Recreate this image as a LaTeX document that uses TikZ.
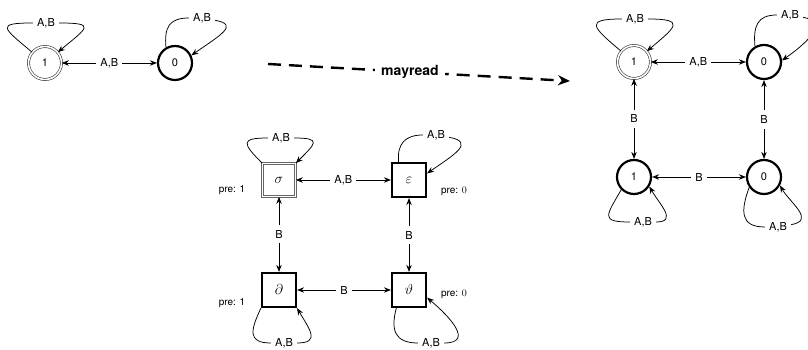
\documentclass[tikz,border=0pt]{standalone}
\usepackage{fontspec}
\newfontfamily\helv{TeX Gyre Heros}
\usetikzlibrary{arrows.meta}

\begin{document}
\begin{tikzpicture}[x=1pt,y=1pt,>={Stealth[length=7pt,width=5.5pt]},
  every node/.style={font=\helv\fontsize{11}{13}\selectfont},
  accst/.style={draw=black!80,circle,double,double distance=1.6pt,line width=0.6pt,minimum size=33pt,inner sep=0pt},
  st/.style={draw,circle,line width=2.2pt,minimum size=34pt,inner sep=0pt},
  accsq/.style={draw=black!60,double,double distance=1.6pt,line width=0.7pt,minimum size=33pt,inner sep=0pt,font=\fontsize{15}{17}\selectfont},
  sq/.style={draw,line width=2.2pt,minimum size=34pt,inner sep=0pt,font=\fontsize{15}{17}\selectfont},
  lbl/.style={fill=white,inner xsep=4pt,inner ysep=5pt},
  prelbl/.style={font=\helv\fontsize{10}{12}\selectfont},
  ln/.style={line width=0.75pt},
  mayarrow/.style={line width=2.4pt,dash pattern=on 13pt off 8pt,-{Stealth[length=12pt,width=10pt]}}]
\useasboundingbox (0,0) rectangle (808,350);

% left automaton
\node[accst] (l1) at (45,287) {1};
\node[st] (l0) at (175,287) {0};
\node[lbl] (l1ab) at (46,327) {A,B};
\node[lbl] (l0ab) at (202,332) {A,B};

\path[draw,ln,<->] (l1) edge node[lbl] {A,B} (l0);
\draw[ln] (l1) to[out=140,in=180,distance=38pt] (l1ab);
\draw[ln,->] (l1ab) to[out=0,in=40,distance=38pt] (l1);
\draw[ln] (l0.120) to[out=95,in=180,distance=20pt] (l0ab);
\draw[ln,->] (l0ab) to[out=-10,in=35,out distance=25pt,in distance=35pt] (l0.25);

% mayread
\coordinate (ms) at (268,286);
\coordinate (me) at (570,269);
\draw[mayarrow] (ms) -- node[pos=.47,fill=white,inner xsep=6pt,font=\helv\bfseries\fontsize{14}{16}\selectfont] {mayread} (me);

% right automaton
\node[accst] (r1) at (634,288) {1};
\node[st] (r0) at (764,288) {0};
\node[st] (r1b) at (634,173) {1};
\node[st] (r0b) at (764,173) {0};
\node[lbl] (r1ab) at (635,331) {A,B};
\node[lbl] (r0ab) at (790,335) {A,B};
\node[lbl] (r1bab) at (643,128) {A,B};
\node[lbl] (r0bab) at (778,123) {A,B};

\path[draw,ln,<->] (r1) edge node[lbl] {A,B} (r0);
\path[draw,ln,<->] (r1) edge node[lbl] {B} (r1b);
\path[draw,ln,<->] (r0) edge node[lbl] {B} (r0b);
\path[draw,ln,<->] (r1b) edge node[lbl] {B} (r0b);
\draw[ln] (r1) to[out=140,in=180,distance=38pt] (r1ab);
\draw[ln,->] (r1ab) to[out=0,in=40,distance=38pt] (r1);
\draw[ln] (r0.120) to[out=95,in=180,distance=20pt] (r0ab);
\draw[ln,->] (r0ab) to[out=-10,in=35,out distance=25pt,in distance=35pt] (r0.5);
\draw[ln] (r1b.225) to[out=240,in=180,distance=30pt] (r1bab);
\draw[ln,->] (r1bab) to[out=0,in=-60,out distance=22pt,in distance=20pt] (r1b.-32);
\draw[ln] (r0b.215) to[out=250,in=180,distance=25pt] (r0bab);
\draw[ln,->] (r0bab) to[out=10,in=-60,out distance=25pt,in distance=20pt] (r0b.-28);

% square automaton
\node[accsq] (sig) at (279,170) {$\sigma$};
\node[sq] (eps) at (409,170) {$\varepsilon$};
\node[sq] (dd) at (279,60) {$\partial$};
\node[sq] (vt) at (409,60) {$\vartheta$};
\node[lbl] (sigab) at (281,212) {A,B};
\node[lbl] (epsab) at (436,215) {A,B};
\node[lbl] (ddab) at (284,7) {A,B};
\node[lbl] (vtab) at (431,7) {A,B};
\node[prelbl] (pre1a) at (232,160) {pre: 1};
\node[prelbl] (pre1b) at (232,47) {pre: 1};
\node[prelbl] (pre0a) at (454,159) {pre: $0$};
\node[prelbl] (pre0b) at (454,56) {pre: $0$};

\path[draw,ln,<->] (sig) edge node[lbl] {A,B} (eps);
\path[draw,ln,<->] (sig) edge node[lbl] {B} (dd);
\path[draw,ln,<->] (eps) edge node[lbl] {B} (vt);
\path[draw,ln,<->] (dd) edge node[lbl] {B} (vt);
\draw[ln] (sig.north west) to[out=135,in=180,distance=28pt] (sigab);
\draw[ln,->] (sigab) to[out=0,in=45,distance=28pt] (sig.north east);
\draw[ln] (eps.120) to[out=95,in=180,distance=18pt] (epsab);
\draw[ln,->] (epsab) to[out=-10,in=35,out distance=28pt,in distance=30pt] (eps.20);
\draw[ln] (dd.south west) to[out=245,in=180,distance=24pt] (ddab);
\draw[ln,->] (ddab) to[out=0,in=-60,distance=24pt] (dd.south east);
\draw[ln] (vt.235) to[out=255,in=180,distance=23pt] (vtab);
\draw[ln,->] (vtab) to[out=0,in=-40,out distance=30pt,in distance=30pt] (vt.-23);
\end{tikzpicture}
\end{document}
